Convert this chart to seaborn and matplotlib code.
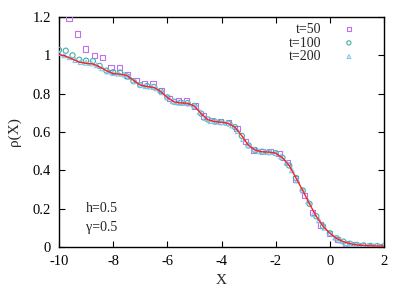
import numpy as np
import pandas as pd
import matplotlib
matplotlib.use("Agg")
import matplotlib.pyplot as plt
import seaborn as sns

# ---- data ----
x_curve = [-10.0, -9.75, -9.5, -9.25, -9.0, -8.75, -8.5, -8.25, -8.0, -7.75,
           -7.5, -7.25, -7.0, -6.75, -6.5, -6.25, -6.0, -5.75, -5.5, -5.25,
           -5.0, -4.75, -4.5, -4.25, -4.0, -3.75, -3.5, -3.25, -3.0, -2.75,
           -2.5, -2.25, -2.0, -1.75, -1.5, -1.25, -1.0, -0.75, -0.5, -0.25,
           0.0, 0.25, 0.5, 0.75, 1.0, 1.25, 1.5, 1.75, 2.0]
rho_curve = [1.005, 0.995, 0.98, 0.965, 0.958, 0.955, 0.94, 0.92, 0.905, 0.902,
             0.895, 0.87, 0.845, 0.837, 0.833, 0.812, 0.78, 0.757, 0.752, 0.75,
             0.735, 0.695, 0.664, 0.654, 0.651, 0.645, 0.625, 0.58, 0.53, 0.505,
             0.497, 0.495, 0.49, 0.465, 0.425, 0.36, 0.295, 0.225, 0.16, 0.108,
             0.072, 0.045, 0.028, 0.017, 0.011, 0.008, 0.006, 0.005, 0.004]

x_t50 = [-9.63, -9.32, -9.01, -8.70, -8.39, -8.08, -7.77, -7.46, -7.15, -6.84,
         -6.53, -6.22, -5.91, -5.60, -5.29, -4.98, -4.67, -4.36, -4.05, -3.74,
         -3.43, -3.12, -2.81, -2.50, -2.19, -1.88, -1.57, -1.26, -0.95, -0.64,
         -0.33, -0.02, 0.29, 0.60, 0.91, 1.22, 1.53, 1.84]
rho_t50 = [1.193, 1.111, 1.033, 0.998, 0.988, 0.935, 0.937, 0.897, 0.868, 0.852,
           0.850, 0.815, 0.776, 0.762, 0.762, 0.736, 0.683, 0.658, 0.654, 0.650,
           0.619, 0.549, 0.506, 0.500, 0.500, 0.488, 0.440, 0.355, 0.268, 0.180,
           0.115, 0.070, 0.040, 0.020, 0.010, 0.005, 0.003, 0.002]

x_t100 = x_curve
rho_t100 = [1.028, 1.024, 1.0, 0.977, 0.972, 0.97, 0.945, 0.92, 0.912, 0.91,
            0.89, 0.865, 0.845, 0.84, 0.835, 0.813, 0.781, 0.758, 0.753, 0.751,
            0.736, 0.696, 0.665, 0.655, 0.652, 0.645, 0.625, 0.58, 0.53, 0.505,
            0.497, 0.495, 0.49, 0.465, 0.425, 0.36, 0.295, 0.225, 0.16, 0.108,
            0.072, 0.045, 0.028, 0.017, 0.011, 0.008, 0.006, 0.005, 0.004]

x_t200 = [-10.0, -9.8, -9.6, -9.4, -9.2, -9.0, -8.8, -8.6, -8.4, -8.2,
          -8.0, -7.8, -7.6, -7.4, -7.2, -7.0, -6.8, -6.6, -6.4, -6.2,
          -6.0, -5.8, -5.6, -5.4, -5.2, -5.0, -4.8, -4.6, -4.4, -4.2,
          -4.0, -3.8, -3.6, -3.4, -3.2, -3.0, -2.8, -2.6, -2.4, -2.2,
          -2.0, -1.8, -1.6, -1.4, -1.2, -1.0, -0.8, -0.6, -0.4, -0.2,
          0.0, 0.2, 0.4, 0.6, 0.8, 1.0, 1.2, 1.4, 1.6, 1.8, 2.0]
rho_t200 = [1.012, 1.0, 0.99, 0.975, 0.965, 0.961, 0.958, 0.948, 0.932, 0.915,
            0.907, 0.904, 0.9, 0.887, 0.866, 0.847, 0.839, 0.836, 0.828, 0.807,
            0.781, 0.76, 0.753, 0.751, 0.748, 0.736, 0.704, 0.672, 0.657, 0.653,
            0.651, 0.647, 0.634, 0.604, 0.563, 0.531, 0.509, 0.499, 0.496, 0.495,
            0.49, 0.472, 0.44, 0.40, 0.347, 0.295, 0.238, 0.172, 0.139, 0.10,
            0.072, 0.05, 0.033, 0.02, 0.015, 0.011, 0.008, 0.006, 0.005, 0.004, 0.004]

x_ticks = [-10, -8, -6, -4, -2, 0, 2]
y_ticks = [0, 0.2, 0.4, 0.6, 0.8, 1.0, 1.2]
y_ticklabels = ["0", "0.2", "0.4", "0.6", "0.8", "1", "1.2"]

# ---- plotting ----
sns.set_theme(style="ticks")
plt.rcParams['font.family'] = ['Liberation Serif', 'DejaVu Serif']

fig = plt.figure(figsize=(4.15, 2.91), dpi=100)
ax = fig.add_axes([59/415, 44/291, 325/415, 230/291])

df50 = pd.DataFrame({"X": x_t50, "rho": rho_t50})
df100 = pd.DataFrame({"X": x_t100, "rho": rho_t100})
df200 = pd.DataFrame({"X": x_t200, "rho": rho_t200})
dfc = pd.DataFrame({"X": x_curve, "rho": rho_curve})

sns.scatterplot(data=df50, x="X", y="rho", ax=ax, marker="s", s=14,
                facecolor="none", edgecolor="#c070f0", linewidth=0.8,
                label="t=50", zorder=3)
sns.scatterplot(data=df100, x="X", y="rho", ax=ax, marker="o", s=14,
                facecolor="none", edgecolor="#40b0a0", linewidth=0.8,
                label="t=100", zorder=3)
sns.scatterplot(data=df200, x="X", y="rho", ax=ax, marker="^", s=12,
                facecolor="none", edgecolor="#80c8f0", linewidth=0.8,
                label="t=200", zorder=3)
sns.lineplot(data=dfc, x="X", y="rho", ax=ax, color="#ff2020", linewidth=1.0,
             zorder=4, legend=False)

ax.set_xlim(-10, 2)
ax.set_ylim(0, 1.2)
ax.set_xticks(x_ticks)
ax.set_xticklabels([str(t) for t in x_ticks])
ax.set_yticks(y_ticks)
ax.set_yticklabels(y_ticklabels)
ax.tick_params(direction="in", length=4, width=0.8, top=True, right=True,
               labelsize=10.5, pad=6, colors="black")
for s in ax.spines.values():
    s.set_linewidth(1.0)
    s.set_color("black")

ax.set_xlabel("X", fontsize=11, labelpad=4)
ax.set_ylabel("ρ(X)", fontsize=11, labelpad=8)

ax.text(-9.0, 0.2, "h=0.5", fontsize=10, ha="left", va="center")
ax.text(-9.0, 0.1, "γ=0.5", fontsize=10, ha="left", va="center")

leg = ax.legend(loc="upper right", markerfirst=False, frameon=False,
                fontsize=10, handletextpad=1.2, labelspacing=0.05,
                borderaxespad=0.3, handlelength=1.5, markerscale=0.8,
                bbox_to_anchor=(0.954, 1.017))

fig.savefig("out.png", dpi=100)
